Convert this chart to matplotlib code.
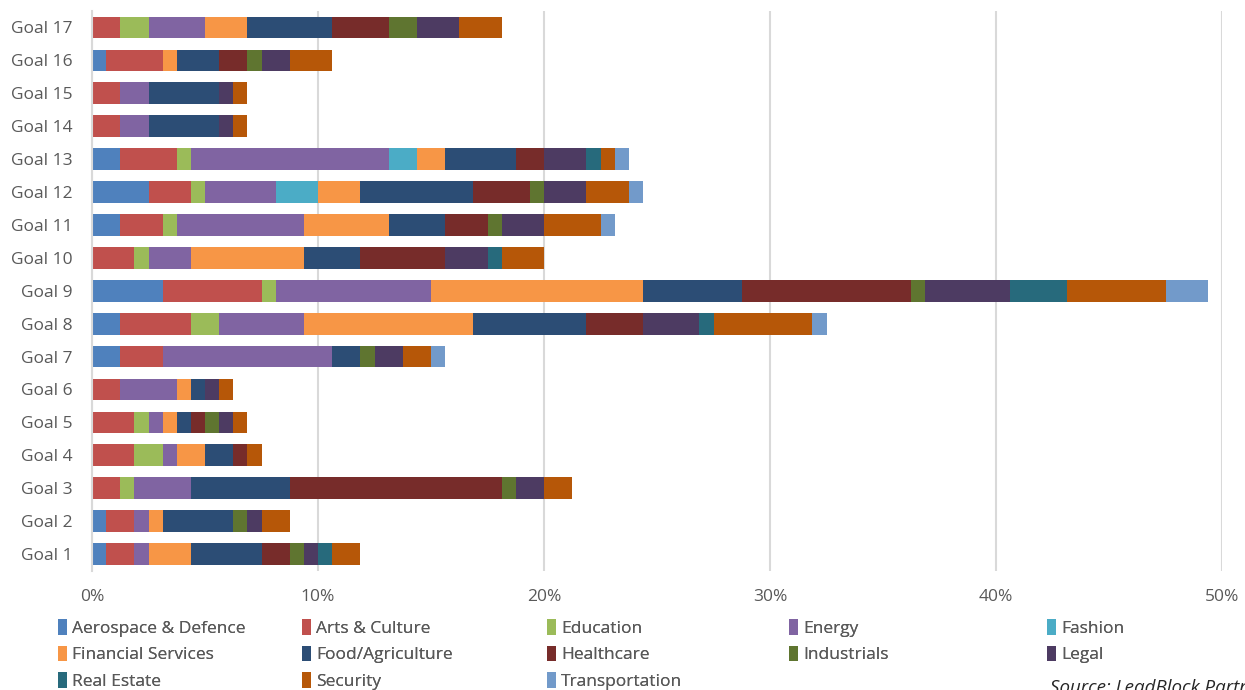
import matplotlib
matplotlib.use("Agg")
import matplotlib.pyplot as plt
from matplotlib.patches import Patch
from matplotlib.ticker import FuncFormatter

goals = ["Goal 1", "Goal 2", "Goal 3", "Goal 4", "Goal 5", "Goal 6", "Goal 7", "Goal 8", "Goal 9",
         "Goal 10", "Goal 11", "Goal 12", "Goal 13", "Goal 14", "Goal 15", "Goal 16", "Goal 17"]

sectors = ["Aerospace & Defence", "Arts & Culture", "Education", "Energy", "Fashion",
           "Financial Services", "Food/Agriculture", "Healthcare", "Industrials", "Legal",
           "Real Estate", "Security", "Transportation"]

# values in % (Goal 1 .. Goal 17)
aerospace = [0.625, 0.625, 0, 0, 0, 0, 1.25, 1.25, 3.125, 0, 1.25, 2.5, 1.25, 0, 0, 0.625, 0]
arts = [1.25, 1.25, 1.25, 1.875, 1.875, 1.25, 1.875, 3.125, 4.375, 1.875, 1.875, 1.875, 2.5, 1.25, 1.25, 2.5, 1.25]
education = [0, 0, 0.625, 1.25, 0.625, 0, 0, 1.25, 0.625, 0.625, 0.625, 0.625, 0.625, 0, 0, 0, 1.25]
energy = [0.625, 0.625, 2.5, 0.625, 0.625, 2.5, 7.5, 3.75, 6.875, 1.875, 5.625, 3.125, 8.75, 1.25, 1.25, 0, 2.5]
fashion = [0, 0, 0, 0, 0, 0, 0, 0, 0, 0, 0, 1.875, 1.25, 0, 0, 0, 0]
financial = [1.875, 0.625, 0, 1.25, 0.625, 0.625, 0, 7.5, 9.375, 5.0, 3.75, 1.875, 1.25, 0, 0, 0.625, 1.875]
food = [3.125, 3.125, 4.375, 1.25, 0.625, 0.625, 1.25, 5.0, 4.375, 2.5, 2.5, 5.0, 3.125, 3.125, 3.125, 1.875, 3.75]
healthcare = [1.25, 0, 9.375, 0.625, 0.625, 0, 0, 2.5, 7.5, 3.75, 1.875, 2.5, 1.25, 0, 0, 1.25, 2.5]
industrials = [0.625, 0.625, 0.625, 0, 0.625, 0, 0.625, 0, 0.625, 0, 0.625, 0.625, 0, 0, 0, 0.625, 1.25]
legal = [0.625, 0.625, 1.25, 0, 0.625, 0.625, 1.25, 2.5, 3.75, 1.875, 1.875, 1.875, 1.875, 0.625, 0.625, 1.25, 1.875]
real_estate = [0.625, 0, 0, 0, 0, 0, 0, 0.625, 2.5, 0.625, 0, 0, 0.625, 0, 0, 0, 0]
security = [1.25, 1.25, 1.25, 0.625, 0.625, 0.625, 1.25, 4.375, 4.375, 1.875, 2.5, 1.875, 0.625, 0.625, 0.625, 1.875, 1.875]
transportation = [0, 0, 0, 0, 0, 0, 0.625, 0.625, 1.875, 0, 0.625, 0.625, 0.625, 0, 0, 0, 0]

series = [aerospace, arts, education, energy, fashion, financial, food, healthcare,
          industrials, legal, real_estate, security, transportation]

colors = ["#4F81BD", "#C0504D", "#9BBB59", "#8064A2", "#4BACC6", "#F79646", "#2C4D75",
          "#772C2A", "#5F7530", "#4D3B62", "#276A7C", "#B65708", "#729ACA"]

xticks = [0, 10, 20, 30, 40, 50]

FONT = ["Open Sans", "DejaVu Sans"]
TXT = "#595959"
plt.rcParams["font.family"] = FONT

W, H = 1245, 690
fig = plt.figure(figsize=(W / 100, H / 100), dpi=100)
ax = fig.add_axes([92 / W, 1 - 570.5 / H, (1222 - 92) / W, (570.5 - 11) / H])

y = list(range(len(goals)))
left = [0.0] * len(goals)
for vals, col, name in zip(series, colors, sectors):
    ax.barh(y, vals, left=left, height=0.66, color=col, label=name, zorder=3)
    left = [l + v for l, v in zip(left, vals)]

ax.set_xlim(0, 50)
ax.set_ylim(-0.5, len(goals) - 0.5)
ax.set_yticks(y)
ax.set_yticklabels(goals, fontsize=12.5, color=TXT)
ax.set_xticks(xticks)
ax.xaxis.set_major_formatter(FuncFormatter(lambda v, p: f"{v:.0f}%"))
ax.tick_params(axis="x", labelsize=12.5, labelcolor=TXT, length=0, pad=13)
ax.tick_params(axis="y", length=0, pad=14)
ax.grid(axis="x", color="#D9D9D9", linewidth=1.5, zorder=0)
for s in ["top", "right", "bottom"]:
    ax.spines[s].set_visible(False)
ax.spines["left"].set_color("#D9D9D9")
ax.spines["left"].set_linewidth(1.5)
ax.spines["left"].set_zorder(4)

# legend: 5 columns, row-major order
col_x = [58, 302, 547, 789, 1047]
handles = [Patch(facecolor=c, edgecolor="none") for c in colors]
for ci, x0 in enumerate(col_x):
    idx = [i for i in range(len(sectors)) if i % 5 == ci]
    leg = fig.legend([handles[i] for i in idx], [sectors[i] for i in idx],
                     loc="upper left", bbox_to_anchor=(x0 / W, 1 - 619 / H),
                     frameon=False, fontsize=12.5, handlelength=0.5, handleheight=1.0,
                     handletextpad=0.3, labelspacing=0.52, borderaxespad=0, borderpad=0,
                     labelcolor=TXT)
    fig.add_artist(leg)

fig.text(1050 / W, 1 - 697 / H, "Source: LeadBlock Partners", fontsize=13.5,
         style="italic", color="#262626", ha="left", va="bottom")

fig.savefig("out.png", dpi=100)
